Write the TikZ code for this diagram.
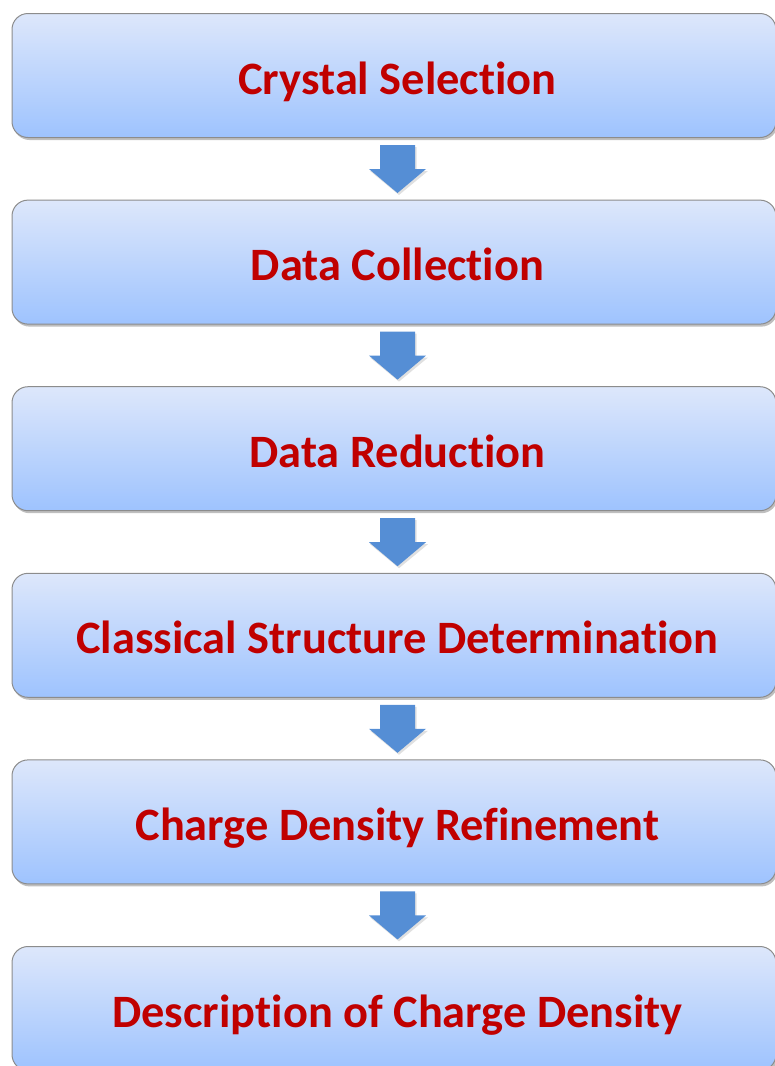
\documentclass[tikz,border=0pt]{standalone}
\usepackage{fontspec}
\setmainfont{Carlito}[Ligatures=NoCommon]
\usetikzlibrary{shadows}
\definecolor{boxtop}{HTML}{DDE7FB}
\definecolor{boxbot}{HTML}{9EC3FE}
\definecolor{boxline}{HTML}{8C8C8C}
\definecolor{txtred}{HTML}{C00000}
\definecolor{arrblue}{HTML}{558ED5}
\begin{document}
\begin{tikzpicture}[x=1pt,y=-1pt,
  stepbox/.style={draw=boxline, line width=1pt, rounded corners=16pt,
    top color=boxtop, bottom color=boxbot, minimum width=764pt, minimum height=124pt,
    inner sep=0pt, text=txtred, font=\fontsize{46.4}{50}\selectfont\bfseries,
    text height=37pt, text depth=0pt,
    drop shadow={shadow xshift=1.5pt, shadow yshift=-2.5pt, fill=black, opacity=0.25}},
  downarrow/.style={fill=arrblue, draw=none}]
\useasboundingbox (0,0) rectangle (775,1066);
\foreach \i/\t in {0/Crystal Selection,1/Data Collection,2/Data Reduction,3/Classical Structure Determination,4/Charge Density Refinement,5/Description of Charge Density}{
  \node[stepbox] (b\i) at (394, 75.5+186.6*\i) {\hspace*{7pt}\t};
}
\foreach \i in {0,...,4}{
  \coordinate (a\i) at (397.5, 145+186.6*\i);
  \fill[black, opacity=0.12] (a\i) ++(-16,2) -- ++(35,0) -- ++(0,24) -- ++(11.5,0) -- ++(-29,24) -- ++(-29,-24) -- ++(11.5,0) -- cycle;
  \fill[downarrow] (a\i) ++(-17.5,0) -- ++(35,0) -- ++(0,24) -- ++(11,0) -- ++(-28.5,24) -- ++(-28.5,-24) -- ++(11,0) -- cycle;
}
\end{tikzpicture}
\end{document}
